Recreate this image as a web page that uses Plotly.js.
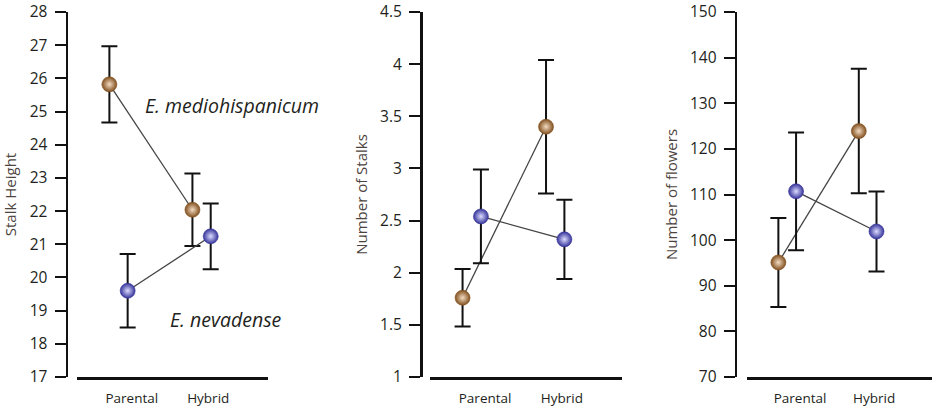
<!DOCTYPE html>
<html>
<head>
<meta charset="utf-8">
<script src="https://cdn.plot.ly/plotly-3.0.1.min.js"></script>
<style>
  html, body { margin: 0; padding: 0; background: #ffffff; }
  #chart { width: 933px; height: 409px; }
</style>
</head>
<body>
<div id="chart"></div>
<script>
// Group labels on the x axis
const categories = ['Parental', 'Hybrid'];

// Stalk height (mean and error half-width)
const heightMedio = [25.82, 22.04];
const heightMedioErr = [1.15, 1.09];
const heightNev = [19.60, 21.24];
const heightNevErr = [1.11, 0.99];

// Number of stalks
const stalksMedio = [1.76, 3.40];
const stalksMedioErr = [0.275, 0.64];
const stalksNev = [2.54, 2.32];
const stalksNevErr = [0.45, 0.38];

// Number of flowers
const flowersMedio = [95.1, 123.9];
const flowersMedioErr = [9.75, 13.65];
const flowersNev = [110.7, 101.9];
const flowersNevErr = [12.9, 8.75];

// Species names written beside the series in the first panel
const speciesMedio = 'E. mediohispanicum';
const speciesNev = 'E. nevadense';

const W = 933, H = 409;
const px = v => v / W;          // horizontal pixel -> paper fraction
const py = v => 1 - v / H;      // vertical pixel -> paper fraction

// Each species sits a little to one side of its group position;
// group labels are nudged to the right of the pair
const sideShift = { medio: -0.11, nev: 0.11 };
const labelShift = [0.16, 0.08];
const xIdx = categories.map((_, i) => i);

const orange = { edge: '#82501f', core: '#f3dcc2' };
const blue = { edge: '#36349a', core: '#dcdcff' };

function series(values, errors, shift, colors, axisSuffix) {
  return {
    type: 'scatter',
    mode: 'lines+markers',
    x: xIdx.map(i => i + shift),
    y: values,
    xaxis: 'x' + axisSuffix,
    yaxis: 'y' + axisSuffix,
    line: { color: '#444444', width: 1.3 },
    marker: {
      size: 15,
      color: colors.edge,
      gradient: { type: 'radial', color: colors.core },
      line: { color: colors.edge, width: 0.6 }
    },
    error_y: {
      type: 'data', array: errors, visible: true,
      color: '#111111', thickness: 2, width: 8
    },
    showlegend: false,
    hoverinfo: 'x+y'
  };
}

const data = [
  series(heightMedio, heightMedioErr, sideShift.medio, orange, ''),
  series(heightNev, heightNevErr, sideShift.nev, blue, ''),
  series(stalksMedio, stalksMedioErr, sideShift.medio, orange, '2'),
  series(stalksNev, stalksNevErr, sideShift.nev, blue, '2'),
  series(flowersMedio, flowersMedioErr, sideShift.medio, orange, '3'),
  series(flowersNev, flowersNevErr, sideShift.nev, blue, '3')
];

const tickFont = { family: 'Open Sans, sans-serif', size: 15.5, color: '#231f20' };
const catFont = { family: 'Open Sans, sans-serif', size: 13.5, color: '#231f20' };
const titleFont = { family: 'Open Sans, sans-serif', size: 15, color: '#4d4440' };

const yDomain = [py(377), py(12)];

function xAxis(left, right, anchor) {
  return {
    domain: [px(left), px(right)],
    range: [-0.5, 1.8],
    anchor: anchor,
    showline: true, linecolor: '#111111', linewidth: 2.5,
    showgrid: false, zeroline: false,
    ticks: '', ticklen: 0,
    tickmode: 'array',
    tickvals: xIdx.map(i => i + labelShift[i]),
    ticktext: categories,
    tickfont: catFont,
    ticklabelstandoff: 7,
    fixedrange: true
  };
}

function yAxis(pos, range, dtick, title) {
  return {
    domain: yDomain,
    anchor: 'free',
    position: px(pos),
    range: range,
    dtick: dtick,
    tick0: range[0],
    showline: true, linecolor: '#111111', linewidth: 2.5,
    showgrid: false, zeroline: false,
    ticks: 'outside', ticklen: 11, tickwidth: 2, tickcolor: '#111111',
    tickfont: tickFont,
    ticklabelstandoff: 4,
    title: { text: title, font: titleFont, standoff: 8 },
    fixedrange: true
  };
}

const annFont = { family: 'Open Sans, sans-serif', size: 19.5, style: 'italic', color: '#231f20' };

const layout = {
  width: W, height: H,
  margin: { l: 0, r: 0, t: 0, b: 0 },
  paper_bgcolor: '#ffffff',
  plot_bgcolor: 'rgba(0,0,0,0)',
  showlegend: false,
  xaxis: xAxis(77, 268, 'y'),
  yaxis: yAxis(66.5, [17, 28], 1, 'Stalk Height'),
  xaxis2: xAxis(430, 622, 'y2'),
  yaxis2: yAxis(421, [1, 4.5], 0.5, 'Number of Stalks'),
  xaxis3: xAxis(747, 932, 'y3'),
  yaxis3: yAxis(735.7, [70, 150], 10, 'Number of flowers'),
  annotations: [
    {
      text: speciesMedio, xref: 'x', yref: 'y', x: 0.3, y: 25.17,
      xanchor: 'left', yanchor: 'middle', showarrow: false, font: annFont
    },
    {
      text: speciesNev, xref: 'x', yref: 'y', x: 0.59, y: 18.72,
      xanchor: 'left', yanchor: 'middle', showarrow: false, font: annFont
    }
  ]
};

Plotly.newPlot('chart', data, layout, { staticPlot: true, displayModeBar: false });
</script>
</body>
</html>
